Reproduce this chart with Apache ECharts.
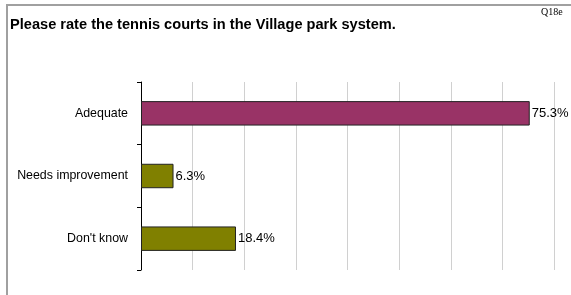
<!DOCTYPE html>
<html><head><meta charset="utf-8">
<script src="https://cdn.jsdelivr.net/npm/echarts@6/dist/echarts.min.js"></script>
<style>html,body{margin:0;padding:0;background:#fff}#c{width:571px;height:295px}</style>
</head><body><div id="c"></div>
<script>
const categories = ["Adequate", "Needs improvement", "Don't know"];
const values = [75.3, 6.3, 18.4];
const barColors = ["#993366", "#808000", "#808000"];
const titleText = "Please rate the tennis courts in the Village park system.";
const tagText = "Q18e";

const chart = echarts.init(document.getElementById('c'), null, {renderer: 'canvas'});
chart.setOption({
  animation: false,
  backgroundColor: '#fff',
  grid: {left: 141, right: 17, top: 82, bottom: 25, containLabel: false},
  title: [
    {text: titleText, left: 10, top: 17, padding: 0, textStyle: {fontFamily: 'Liberation Sans, Arial', fontWeight: 'bold', fontSize: 14.6, color: '#000'}},
    {text: tagText, left: 541, top: 7, padding: 0, textStyle: {fontFamily: 'Liberation Serif, Times New Roman', fontWeight: 'normal', fontSize: 10, color: '#000'}}
  ],
  graphic: [
    {type: 'line', shape: {x1: 6, y1: 5, x2: 571, y2: 5}, style: {stroke: '#a0a0a0', lineWidth: 2}},
    {type: 'line', shape: {x1: 7, y1: 5, x2: 7, y2: 295}, style: {stroke: '#a0a0a0', lineWidth: 2}}
  ],
  xAxis: {
    type: 'value', min: 0, max: 80, interval: 10,
    axisLine: {show: false}, axisTick: {show: false}, axisLabel: {show: false},
    splitLine: {show: true, lineStyle: {color: '#d0d0d0', width: 1}}
  },
  yAxis: {
    type: 'category', inverse: true, data: categories,
    axisLine: {show: true, lineStyle: {color: '#000', width: 1}},
    axisTick: {show: true, length: 4, inside: false, lineStyle: {color: '#000'}},
    axisLabel: {margin: 13, fontFamily: 'Liberation Sans, Arial', fontSize: 12.4, color: '#000'},
    splitLine: {show: false}
  },
  series: [{
    type: 'bar', barWidth: '39%',
    data: values.map((v, i) => ({value: v, itemStyle: {color: barColors[i]}})),
    itemStyle: {borderColor: '#222', borderWidth: 1},
    label: {show: true, position: 'right', distance: 2, formatter: p => p.value.toFixed(1) + '%', fontFamily: 'Liberation Sans, Arial', fontSize: 13, color: '#000'}
  }]
});
</script></body></html>
